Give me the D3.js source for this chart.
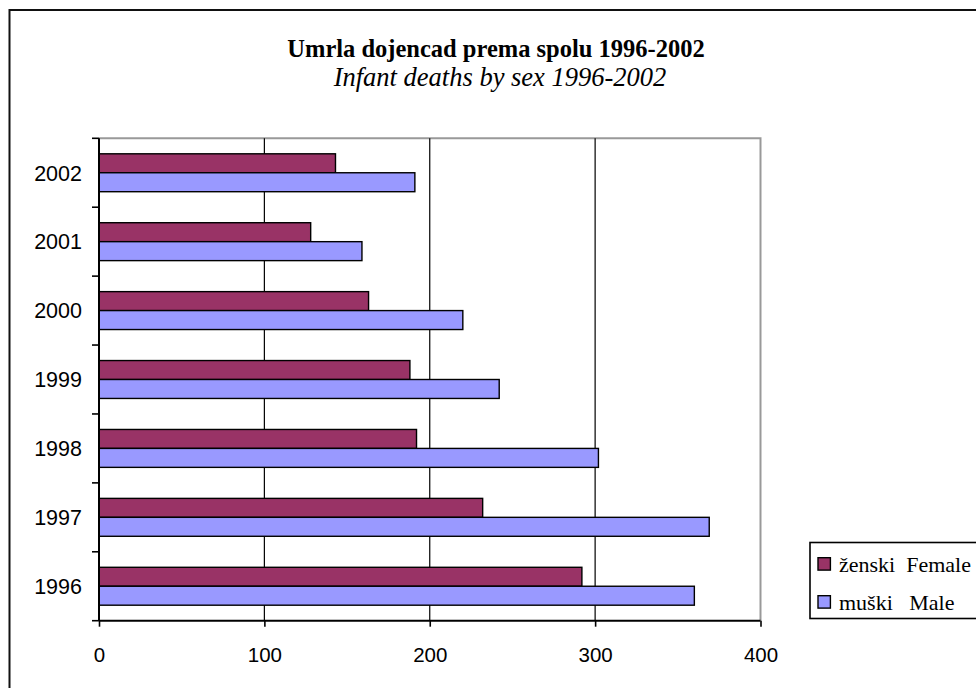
<!DOCTYPE html>
<html><head><meta charset="utf-8">
<script src="https://cdn.jsdelivr.net/npm/d3@7"></script>
<style>body{margin:0;background:#fff}svg{display:block}</style>
</head><body>
<svg id="c" width="976" height="688"></svg>
<script>
const years = ["2002","2001","2000","1999","1998","1997","1996"];
const female = [143, 128, 163, 188, 192, 232, 292];
const male   = [191, 159, 220, 242, 302, 369, 360];
const seriesNames = ["ženski\u00a0\u00a0Female", "muški\u00a0\u00a0\u00a0Male"];
const seriesKeys = ["female","male"];
const xTicks = [0,100,200,300,400];
const colors = {female:"#993366", male:"#9999FF"};

const svg = d3.select("#c");
const W = 976, H = 688;
const plot = {l:99, r:760.5, t:138.3, b:620.7};

svg.append("rect").attr("x",0).attr("y",0).attr("width",W).attr("height",H).attr("fill","#fff");
// outer frame (extends beyond view)
svg.append("rect").attr("x",9.5).attr("y",10).attr("width",1000).attr("height",700)
  .attr("fill","none").attr("stroke","#111").attr("stroke-width",2);

// titles
svg.append("text").attr("x",496).attr("y",56.5).attr("text-anchor","middle")
  .attr("font-family","Liberation Serif, Times New Roman, serif").attr("font-weight","bold")
  .attr("font-size",24.5).text("Umrla dojencad prema spolu 1996-2002");
svg.append("text").attr("x",500).attr("y",85.5).attr("text-anchor","middle")
  .attr("font-family","Liberation Serif, Times New Roman, serif").attr("font-style","italic")
  .attr("font-size",26.5).text("Infant deaths by sex 1996-2002");

const x = d3.scaleLinear().domain([0,400]).range([plot.l, plot.r]);
const y = d3.scaleBand().domain(years).range([plot.t, plot.b]).paddingInner(0.45).paddingOuter(0.225);
const yi = d3.scaleBand().domain(seriesKeys).range([0, y.bandwidth()]);
const yCat = d3.scaleBand().domain(years).range([plot.t, plot.b]);

// plot area border (top/right gray)
svg.append("path")
  .attr("d", `M${plot.l},${plot.t}H${plot.r}V${plot.b}`)
  .attr("fill","none").attr("stroke","#999").attr("stroke-width",2);

// gridlines
svg.append("g").selectAll("line").data(xTicks.filter(d=>d>0 && d<400)).join("line")
  .attr("x1",d=>x(d)).attr("x2",d=>x(d)).attr("y1",plot.t).attr("y2",plot.b)
  .attr("stroke","#000").attr("stroke-width",1.2);

// bars
const rows = years.map((yr,i)=>({year:yr, female:female[i], male:male[i]}));
const g = svg.append("g");
rows.forEach(r=>{
  seriesKeys.forEach(k=>{
    g.append("rect")
      .attr("x", x(0)).attr("y", y(r.year)+yi(k))
      .attr("width", x(r[k])-x(0)).attr("height", yi.bandwidth())
      .attr("fill", colors[k]).attr("stroke","#000").attr("stroke-width",1.4);
  });
});

// x axis
const xAxis = d3.axisBottom(x).tickValues(xTicks).tickSize(6).tickPadding(20).tickFormat(d3.format("d"));
const xg = svg.append("g").attr("transform",`translate(0,${plot.b})`).call(xAxis);
xg.select(".domain").attr("stroke","#000").attr("stroke-width",2).attr("d",`M${plot.l},0H${plot.r}`);
xg.selectAll(".tick line").attr("stroke","#000").attr("stroke-width",1.6);
xg.selectAll("text").attr("font-family","Liberation Sans, Arial, sans-serif").attr("font-size",20.5).attr("fill","#000")
  .attr("dy",null).attr("y",41);

// y axis: ticks at category boundaries
const yAxisG = svg.append("g").attr("transform",`translate(${plot.l},0)`);
yAxisG.append("line").attr("x1",0).attr("x2",0).attr("y1",plot.t).attr("y2",plot.b)
  .attr("stroke","#000").attr("stroke-width",2);
const bounds = years.map(d=>yCat(d)).concat([plot.b]);
yAxisG.selectAll("line.t").data(bounds).join("line").attr("class","t")
  .attr("x1",-7).attr("x2",0).attr("y1",d=>d).attr("y2",d=>d)
  .attr("stroke","#000").attr("stroke-width",1.6);
const yAxis = d3.axisLeft(yCat).tickSize(0).tickPadding(17);
const yg = svg.append("g").attr("transform",`translate(${plot.l},0)`).call(yAxis);
yg.select(".domain").remove();
yg.selectAll("text").attr("font-family","Liberation Sans, Arial, sans-serif").attr("font-size",21.5).attr("fill","#000")
  .attr("dy","0.36em");

// legend
const lg = svg.append("g");
lg.append("rect").attr("x",810).attr("y",542.5).attr("width",200).attr("height",76)
  .attr("fill","#fff").attr("stroke","#000").attr("stroke-width",1.6);
const ly = d3.scalePoint().domain(seriesKeys).range([564, 602]);
seriesKeys.forEach((k,i)=>{
  lg.append("rect").attr("x",818).attr("y",ly(k)-6.3).attr("width",12.4).attr("height",12.4)
    .attr("fill",colors[k]).attr("stroke","#000").attr("stroke-width",1.4);
  lg.append("text").attr("x",839).attr("y",ly(k)+7.5)
    .attr("font-family","Liberation Serif, Times New Roman, serif").attr("font-size",22)
    .attr("fill","#000").text(seriesNames[i]);
});
</script>
</body></html>
